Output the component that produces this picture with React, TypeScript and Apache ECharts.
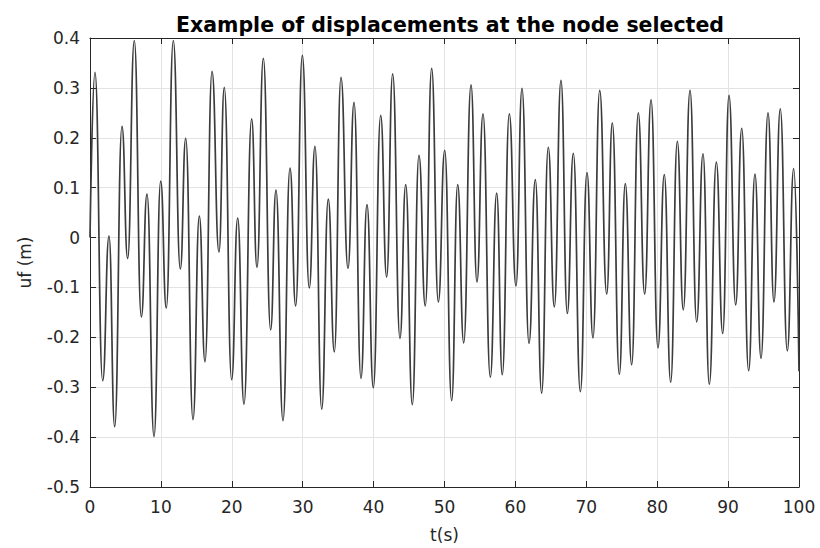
import React, { useEffect, useRef } from "react";
import * as echarts from "echarts";

const titleText = "Example of displacements at the node selected";
const xName = "t(s)";
const yName = "uf (m)";

// extrema (time in s, displacement in m)
const tValues = [
  0, 0.7, 1.79, 2.68, 3.48, 4.51, 5.31, 6.25, 7.24, 8.04, 9.03, 9.97, 10.76, 11.75,
  12.74, 13.5, 14.53, 15.42, 16.22, 17.21, 18.19, 18.94, 19.98, 20.83, 21.72, 22.8, 23.55, 24.45,
  25.48, 26.23, 27.22, 28.21, 29.01, 29.95, 30.93, 31.73, 32.68, 33.61, 34.46, 35.4, 36.39, 37.24,
  38.22, 39.07, 39.96, 41.0, 41.84, 42.69, 43.72, 44.53, 45.46, 46.4, 47.29, 48.19, 49.13, 50.03,
  51.01, 51.86, 52.71, 53.74, 54.58, 55.43, 56.46, 57.36, 58.15, 59.14, 60.08, 60.93, 61.92, 62.81,
  63.7, 64.64, 65.49, 66.43, 67.32, 68.17, 69.16, 70.1, 70.94, 71.89, 72.88, 73.67, 74.66, 75.5,
  76.4, 77.33, 78.23, 79.13, 80.11, 81.0, 81.9, 82.84, 83.68, 84.63, 85.57, 86.46, 87.35, 88.34,
  89.24, 90.13, 91.07, 91.92, 92.9, 93.79, 94.64, 95.63, 96.47, 97.36, 98.35, 99.25, 100,
];
const uValues = [
  0.0, 0.331, -0.287, 0.003, -0.379, 0.223, -0.042, 0.395, -0.159, 0.087, -0.399, 0.113, -0.141, 0.395,
  -0.063, 0.199, -0.365, 0.043, -0.249, 0.333, -0.029, 0.301, -0.285, 0.039, -0.334, 0.238, -0.06, 0.359,
  -0.185, 0.095, -0.367, 0.139, -0.137, 0.365, -0.101, 0.183, -0.344, 0.077, -0.229, 0.321, -0.062, 0.271,
  -0.282, 0.066, -0.301, 0.245, -0.079, 0.328, -0.202, 0.106, -0.335, 0.165, -0.137, 0.339, -0.129, 0.175,
  -0.327, 0.106, -0.211, 0.306, -0.089, 0.248, -0.28, 0.089, -0.275, 0.248, -0.097, 0.299, -0.212, 0.116,
  -0.312, 0.181, -0.139, 0.315, -0.152, 0.169, -0.309, 0.13, -0.201, 0.295, -0.113, 0.23, -0.274, 0.108,
  -0.255, 0.25, -0.113, 0.276, -0.221, 0.126, -0.29, 0.193, -0.145, 0.295, -0.169, 0.168, -0.294, 0.151,
  -0.192, 0.285, -0.135, 0.219, -0.267, 0.127, -0.242, 0.25, -0.129, 0.258, -0.227, 0.138, -0.268,
];

const xMin = 0;
const xMax = 100;
const xStep = 10;
const yMin = -0.5;
const yMax = 0.4;
const yStep = 0.1;

const FONT = "'DejaVu Sans', 'Liberation Sans', Arial, sans-serif";
const AXIS = "#262626";
const GRID = "#e3e3e3";

export default function App() {
  const ref = useRef<HTMLDivElement>(null);
  useEffect(() => {
    if (!ref.current) return;
    const chart = echarts.init(ref.current, null, { renderer: "svg" });
    const data = tValues.map((t, i) => [t, uValues[i]]);
    const fmtY = (v: number) => {
      const r = Math.round(v * 10) / 10;
      return r === 0 ? "0" : String(r);
    };
    chart.setOption({
      animation: false,
      backgroundColor: "#ffffff",
      title: {
        text: titleText,
        left: 445,
        textAlign: "center",
        top: 9,
        textStyle: { fontFamily: FONT, fontWeight: "bold", fontSize: 20.5, color: "#000" },
      },
      grid: { left: 90, right: 21, top: 38, bottom: 59, containLabel: false },
      xAxis: [
        {
          type: "value",
          min: xMin,
          max: xMax,
          interval: xStep,
          name: xName,
          nameLocation: "middle",
          nameGap: 39,
          nameTextStyle: { fontFamily: FONT, fontSize: 17, color: AXIS },
          axisLine: { show: true, onZero: false, lineStyle: { color: AXIS, width: 1 } },
          axisTick: { show: true, inside: true, length: 6, lineStyle: { color: AXIS } },
          axisLabel: { fontFamily: FONT, fontSize: 17, color: AXIS, margin: 11 },
          splitLine: { show: true, lineStyle: { color: GRID, width: 1 } },
        },
        {
          type: "value",
          position: "top",
          min: xMin,
          max: xMax,
          interval: xStep,
          axisLine: { show: true, onZero: false, lineStyle: { color: AXIS, width: 1 } },
          axisTick: { show: true, inside: true, length: 6, lineStyle: { color: AXIS } },
          axisLabel: { show: false },
          splitLine: { show: false },
        },
      ],
      yAxis: [
        {
          type: "value",
          min: yMin,
          max: yMax,
          interval: yStep,
          name: yName,
          nameLocation: "middle",
          nameGap: 57,
          nameRotate: 90,
          nameTextStyle: { fontFamily: FONT, fontSize: 17, color: AXIS },
          axisLine: { show: true, onZero: false, lineStyle: { color: AXIS, width: 1 } },
          axisTick: { show: true, inside: true, length: 6, lineStyle: { color: AXIS } },
          axisLabel: { fontFamily: FONT, fontSize: 17, color: AXIS, margin: 10, formatter: fmtY },
          splitLine: { show: true, lineStyle: { color: GRID, width: 1 } },
        },
        {
          type: "value",
          position: "right",
          min: yMin,
          max: yMax,
          interval: yStep,
          axisLine: { show: true, onZero: false, lineStyle: { color: AXIS, width: 1 } },
          axisTick: { show: true, inside: true, length: 6, lineStyle: { color: AXIS } },
          axisLabel: { show: false },
          splitLine: { show: false },
        },
      ],
      series: [
        {
          type: "line",
          data,
          xAxisIndex: 0,
          yAxisIndex: 0,
          showSymbol: false,
          smooth: 0.5,
          smoothMonotone: "x",
          lineStyle: { color: "#3c3c3c", width: 1.7 },
        },
      ],
    });
    return () => chart.dispose();
  }, []);
  return <div ref={ref} style={{ width: 820, height: 548, position: "absolute", left: 0, top: 0 }} />;
}
